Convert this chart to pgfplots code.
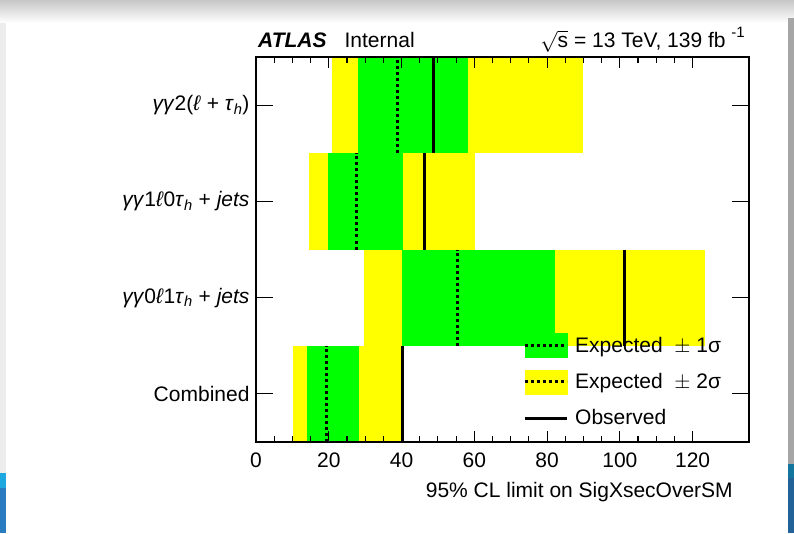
\documentclass[border=0pt]{standalone}
\usepackage{fontspec}
\setmainfont{Liberation Sans}
\usepackage{pgfplots}
\pgfplotsset{compat=1.18}
\definecolor{rootgreen}{RGB}{0,255,0}
\definecolor{rootyellow}{RGB}{255,255,0}
\definecolor{slideblue}{RGB}{42,123,191}
\definecolor{slidecyan}{RGB}{30,168,224}
\begin{document}
\begin{tikzpicture}[x=1pt,y=1pt,font=\fontsize{21}{25}\selectfont]
\fill[white] (0,0) rectangle (794,533);
\shade[top color=black!22, bottom color=white] (0,510) rectangle (794,533);
\fill[black!7] (0,60) rectangle (6,510);
\fill[slidecyan] (0,45) rectangle (6,60);
\fill[slideblue] (0,0) rectangle (6,45);
\fill[black!35] (788,69) rectangle (794,515);
\fill[slidecyan!70!black] (788,55) rectangle (794,69);
\fill[slideblue!80!black] (788,0) rectangle (794,55);
\begin{axis}[
  at={(256pt,91pt)}, anchor=south west, scale only axis,
  width=493pt, height=385pt,
  xmin=0, xmax=135.5, ymin=0, ymax=4,
  axis on top,
  axis line style={line width=1.2pt},
  tick style={line width=1.1pt, black},
  tick align=inside,
  xtick={0,20,...,120}, minor x tick num=3,
  ytick={0.5,1.5,2.5,3.5},
  yticklabels={Combined,
    {\textit{γγ}0\textit{ℓ}1\textit{τ}\textsubscript{\textit{h}} + \textit{jets}},
    {\textit{γγ}1\textit{ℓ}0\textit{τ}\textsubscript{\textit{h}} + \textit{jets}},
    {\textit{γγ}2(\textit{ℓ} + \textit{τ}\textsubscript{\textit{h}})}},
  major tick length=11pt, minor tick length=6pt,
  y tick style={/pgfplots/major tick length=17pt},
  /pgf/number format/assume math mode=true,
  xticklabel style={yshift=-7pt},
  yticklabel style={xshift=-3pt},
  xlabel={95\% CL limit on SigXsecOverSM},
  x label style={at={(axis description cs:0.9675,-0.105)}, anchor=north east, inner sep=0pt},
  legend style={at={(0.5416,0.283)}, anchor=north west, draw=none, fill=none,
    inner sep=0pt, row sep=12pt, nodes={inner sep=0pt},
    /tikz/every odd column/.style={column sep=7pt}},
  legend cell align=left,
]
\addlegendimage{legend image code/.code={
  \fill[rootgreen] (0pt,-12pt) rectangle (42pt,12pt);
  \draw[black,line width=3pt,dash pattern=on 3pt off 3pt] (0pt,0pt) -- (42pt,0pt);}}
\addlegendentry{Expected \ $\pm$ 1σ}
\addlegendimage{legend image code/.code={
  \fill[rootyellow] (0pt,-12pt) rectangle (42pt,12pt);
  \draw[black,line width=3pt,dash pattern=on 3pt off 3pt] (0pt,0pt) -- (42pt,0pt);}}
\addlegendentry{Expected \ $\pm$ 2σ}
\addlegendimage{legend image code/.code={
  \path[draw=none,fill=none] (0pt,-12pt) rectangle (42pt,12pt);
  \draw[black,line width=3pt] (0pt,0pt) -- (42pt,0pt);}}
\addlegendentry{Observed}
% yellow (+-2 sigma)
\addplot[forget plot, fill=rootyellow, draw=none] coordinates {(10.2,0) (40.6,0) (40.6,1) (10.2,1)} -- cycle;
\addplot[forget plot, fill=rootyellow, draw=none] coordinates {(29.8,1) (123.4,1) (123.4,2) (29.8,2)} -- cycle;
\addplot[forget plot, fill=rootyellow, draw=none] coordinates {(14.6,2) (60.2,2) (60.2,3) (14.6,3)} -- cycle;
\addplot[forget plot, fill=rootyellow, draw=none] coordinates {(20.9,3) (89.8,3) (89.8,4) (20.9,4)} -- cycle;
% green (+-1 sigma)
\addplot[forget plot, fill=rootgreen, draw=none] coordinates {(13.9,0) (28.2,0) (28.2,1) (13.9,1)} -- cycle;
\addplot[forget plot, fill=rootgreen, draw=none] coordinates {(40.0,1) (82.1,1) (82.1,2) (40.0,2)} -- cycle;
\addplot[forget plot, fill=rootgreen, draw=none] coordinates {(19.7,2) (40.3,2) (40.3,3) (19.7,3)} -- cycle;
\addplot[forget plot, fill=rootgreen, draw=none] coordinates {(27.9,3) (58.2,3) (58.2,4) (27.9,4)} -- cycle;
% expected
\addplot[forget plot, black, line width=3pt, dash pattern=on 3pt off 3pt] coordinates {(19.5,0) (19.5,1)};
\addplot[forget plot, black, line width=3pt, dash pattern=on 3pt off 3pt] coordinates {(55.5,1) (55.5,2)};
\addplot[forget plot, black, line width=3pt, dash pattern=on 3pt off 3pt] coordinates {(27.5,2) (27.5,3)};
\addplot[forget plot, black, line width=3pt, dash pattern=on 3pt off 3pt] coordinates {(38.8,3) (38.8,4)};
% observed
\addplot[forget plot, black, line width=3pt] coordinates {(40.3,0) (40.3,1)};
\addplot[forget plot, black, line width=3pt] coordinates {(101.2,1) (101.2,2)};
\addplot[forget plot, black, line width=3pt] coordinates {(46.2,2) (46.2,3)};
\addplot[forget plot, black, line width=3pt] coordinates {(48.7,3) (48.7,4)};
\end{axis}
\node[anchor=base west, inner sep=0pt] at (258,485) {\textbf{\textit{ATLAS}}\hspace{18pt}Internal};
\node[anchor=base east, inner sep=0pt] at (745,485) {$\sqrt{\mbox{s}}$ = 13 TeV, 139 fb \raisebox{10pt}{\fontsize{15}{15}\selectfont -1}};
\end{tikzpicture}
\end{document}
